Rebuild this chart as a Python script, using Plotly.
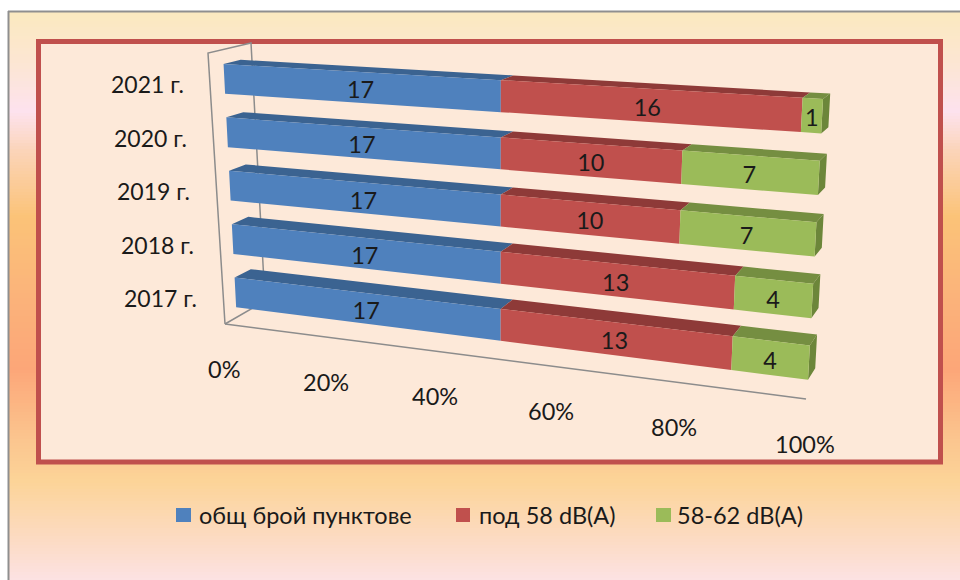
import plotly.graph_objects as go

# ---- data ----
categories = ["2017 г.", "2018 г.", "2019 г.", "2020 г.", "2021 г."]
total_points = [17, 17, 17, 17, 17]
below_58 = [13, 13, 10, 10, 16]
from_58_to_62 = [4, 4, 7, 7, 1]
series_names = ["общ брой пунктове", "под 58 dB(A)", "58-62 dB(A)"]
percent_ticks = [0, 20, 40, 60, 80, 100]

FONT = "Lato"
SIZE = 23.5
TEXT = "#1a1a1a"
FRONT = ["#4F81BD", "#C0504D", "#9BBB59"]
TOP = ["#3B6391", "#8E3A38", "#758E41"]
SIDE = "#6C863A"

# ---- oblique projection of the 3-D stacked bar chart onto the page ----
K = 1.162          # perspective foreshortening along the value axis
BAR_DEPTH = 0.4
ROW = 0.197
ROW0 = 0.018
HALF = 0.055


def lerp(a, b, f):
    return a + (b - a) * f


def project(t, s, d=0.0, bars=True):
    u = t / (t + K * (1 - t)) if t > 0 else 0.0
    x = lerp(225 - 17 * s, 806 + 19.7 * s, u)
    y = lerp(324 - 271 * s, 399 - 312.6 * s, u)
    if bars:
        x += lerp(12 + 3 * s, 1 - 3 * s, u)
    x += d * lerp(40 + 3 * s, 18, u)
    y += d * lerp(lerp(-23, -30, u), lerp(-10, -13, u), s)
    return x, y


def polygons(quads):
    xs, ys = [], []
    for quad in quads:
        for p in quad + [quad[0]]:
            xs.append(p[0])
            ys.append(p[1])
        xs.append(None)
        ys.append(None)
    return xs, ys


fig = go.Figure()


def add_fill(quads, color, name):
    xs, ys = polygons(quads)
    fig.add_trace(go.Scatter(x=xs, y=ys, mode="lines", fill="toself", fillcolor=color,
                             line=dict(width=0, color=color), name=name,
                             showlegend=False, hoverinfo="name"))


# wall and floor frame
fx, fy = [], []
for path in [[(0, 0, 0), (0, 1, 0), (0, 1, 1), (0, 0, 1), (0, 0, 0)], [(0, 0, 0), (1, 0, 0)]]:
    for t, s, d in path:
        px, py = project(t, s, d, bars=False)
        fx.append(px)
        fy.append(py)
    fx.append(None)
    fy.append(None)
fig.add_trace(go.Scatter(x=fx, y=fy, mode="lines", line=dict(color="#8C8C8C", width=1.5),
                         showlegend=False, hoverinfo="skip"))

# bars
stacks = [total_points, below_58, from_58_to_62]
for k, values in enumerate(stacks):
    front, top, side = [], [], []
    for i in range(len(categories)):
        row_total = sum(st[i] for st in stacks)
        lo = sum(st[i] for st in stacks[:k]) / row_total
        hi = lo + values[i] / row_total
        c = ROW0 + (i + 0.5) * ROW
        s0, s1 = c - HALF, c + HALF
        front.append([project(lo, s0), project(hi, s0), project(hi, s1), project(lo, s1)])
        top.append([project(lo, s1), project(hi, s1), project(hi, s1, BAR_DEPTH), project(lo, s1, BAR_DEPTH)])
        if hi > 0.999:
            side.append([project(1, s0), project(1, s1), project(1, s1, BAR_DEPTH), project(1, s0, BAR_DEPTH)])
    add_fill(top, TOP[k], series_names[k])
    if side:
        add_fill(side, SIDE, series_names[k])
    add_fill(front, FRONT[k], series_names[k])

# value labels
for k, values in enumerate(stacks):
    lx, ly = [], []
    for i in range(len(categories)):
        row_total = sum(st[i] for st in stacks)
        lo = sum(st[i] for st in stacks[:k]) / row_total
        mid = lo + values[i] / row_total / 2
        px, py = project(mid, ROW0 + (i + 0.5) * ROW)
        lx.append(px + 3 - k * 1.5)
        ly.append(py + 5)
    fig.add_trace(go.Scatter(x=lx, y=ly, mode="text", text=[str(v) for v in values],
                             textfont=dict(family=FONT, size=SIZE, color=TEXT),
                             showlegend=False, hoverinfo="skip"))

annotations = []
# category labels
for i, label in enumerate(categories):
    px, py = project(0, ROW0 + (i + 0.5) * ROW, bars=False)
    annotations.append(dict(x=px - 24, y=py + 5.5, text=label, xanchor="right", yanchor="middle",
                            showarrow=False, font=dict(family=FONT, size=SIZE - 0.5, color=TEXT)))
# value-axis labels
for tick in percent_ticks:
    px, py = project(tick / 100, 0, bars=False)
    annotations.append(dict(x=px - 1.5, y=py + 45, text=f"{tick}%", xanchor="center", yanchor="middle",
                            showarrow=False, font=dict(family=FONT, size=SIZE, color=TEXT)))

# background
stops = [(12, (251, 233, 192)), (60, (252, 230, 210)), (110, (253, 226, 238)), (150, (251, 212, 184)),
         (215, (251, 195, 120)), (295, (251, 179, 122)), (367, (252, 166, 120)), (440, (251, 198, 143)),
         (480, (252, 212, 152)), (530, (252, 218, 189)), (580, (252, 226, 228))]
shapes = []
for (y0, c0), (y1, c1) in zip(stops, stops[1:]):
    y = y0
    while y < y1:
        f = (y - y0) / (y1 - y0)
        col = "rgb(%d,%d,%d)" % tuple(round(lerp(a, b, f)) for a, b in zip(c0, c1))
        shapes.append(dict(type="rect", x0=8, x1=960, y0=y, y1=min(y + 3, y1) + 0.5, fillcolor=col,
                           line_width=0, layer="below"))
        y += 3
# outer frame
shapes.append(dict(type="line", x0=8.5, x1=8.5, y0=11, y1=580, line=dict(color="#8F8F8F", width=2), layer="below"))
shapes.append(dict(type="line", x0=8, x1=960, y0=11.5, y1=11.5, line=dict(color="#8F8F8F", width=2), layer="below"))
# chart panel
shapes.append(dict(type="rect", x0=38.5, x1=940.5, y0=41.5, y1=462, fillcolor="#FDE9D9",
                   line=dict(color="#C0504D", width=5), layer="below"))

# legend
legend_swatches = [(176, 191), (456, 470), (656, 671)]
legend_text_x = [197, 477, 675]
for k, name in enumerate(series_names):
    shapes.append(dict(type="rect", x0=legend_swatches[k][0], x1=legend_swatches[k][1], y0=508, y1=522,
                       fillcolor=FRONT[k], line_width=0))
    annotations.append(dict(x=legend_text_x[k], y=515, text=name, xanchor="left", yanchor="middle",
                            showarrow=False, font=dict(family=FONT, size=SIZE, color=TEXT)))

fig.update_layout(
    width=960, height=580, margin=dict(l=0, r=0, t=0, b=0),
    paper_bgcolor="white", plot_bgcolor="rgba(0,0,0,0)",
    xaxis=dict(range=[0, 960], visible=False, fixedrange=True),
    yaxis=dict(range=[580, 0], visible=False, fixedrange=True),
    shapes=shapes, annotations=annotations, showlegend=False,
)
fig.write_html("out.html", config=dict(displayModeBar=False),
               post_script="document.body.style.margin='0';document.body.style.overflow='hidden';")
